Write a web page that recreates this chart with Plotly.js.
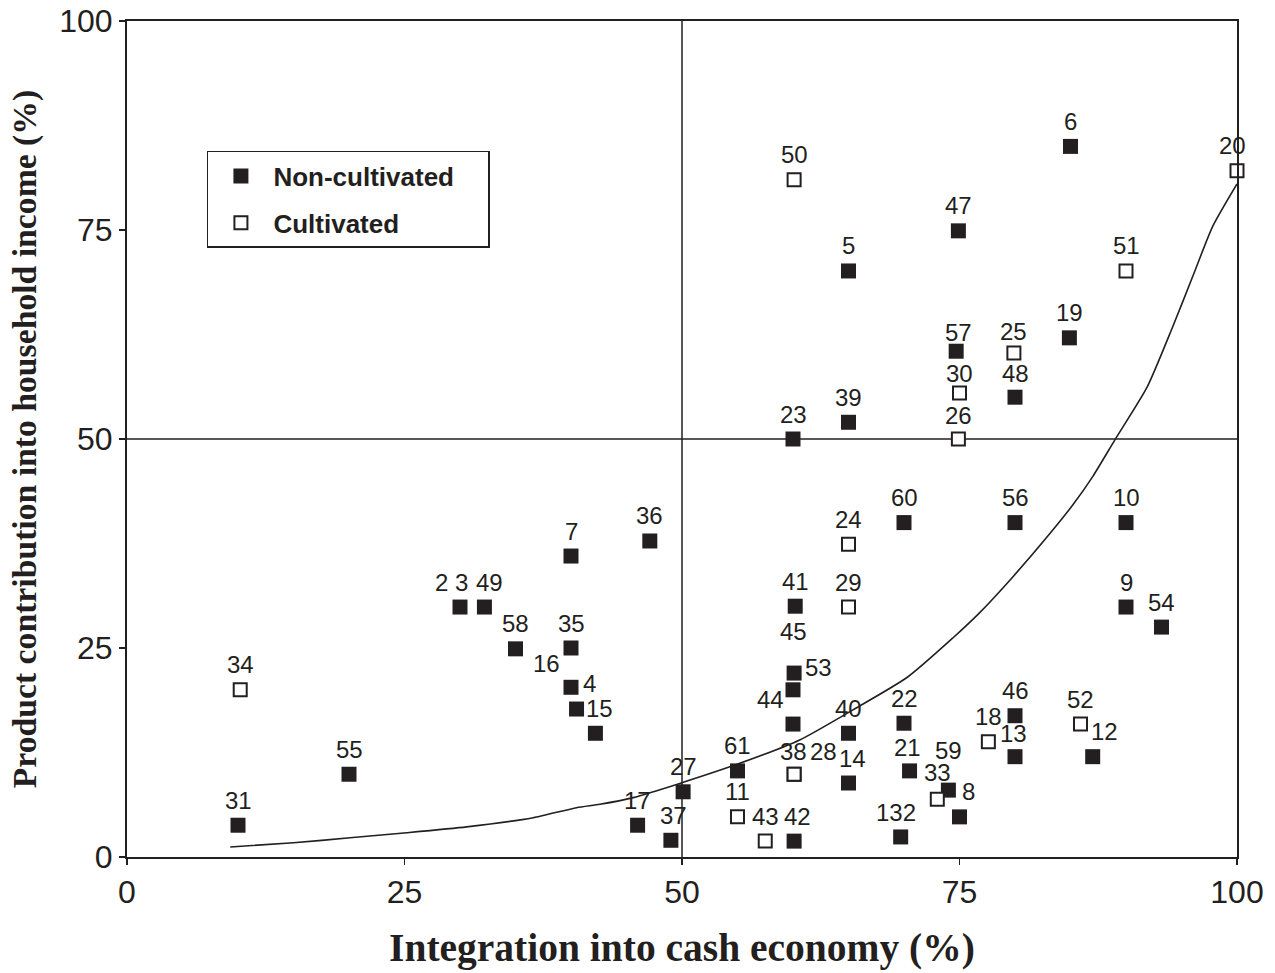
<!DOCTYPE html>
<html>
<head>
<meta charset="utf-8">
<script src="https://cdn.plot.ly/plotly-3.0.1.min.js"></script>
<style>html,body{margin:0;padding:0;background:#fff;}#chart{width:1275px;height:973px;}</style>
</head>
<body>
<div id="chart"></div>
<script>
// ---- Data ----
const ncIds = ['31','55','2 3','49','58','7','35','16','4','15','36','17','37','27','61','42','44','53','45','41','40','14','22','21','132','59','8','46','13','12','54','9','10','56','60','23','39','57','48','19','5','47','6'];
const ncX = [10, 20, 30, 32.2, 35, 40, 40, 40, 40.5, 42.2, 47.1, 46, 49, 50.1, 55, 60.1, 60, 60.1, 60, 60.2, 65, 65, 70, 70.5, 69.7, 74, 75, 80, 80, 87, 93.2, 90, 90, 80, 70, 60, 65, 74.7, 80, 84.9, 65, 74.9, 85];
const ncY = [3.8, 9.9, 29.9, 29.9, 24.9, 36, 25, 20.3, 17.7, 14.8, 37.8, 3.8, 2, 7.8, 10.3, 1.9, 15.9, 22, 20, 30, 14.8, 8.85, 16, 10.3, 2.4, 8, 4.8, 16.9, 12, 12, 27.5, 29.9, 40, 40, 40, 50, 52, 60.5, 55, 62.1, 70.1, 74.9, 85];

const cIds = ['34','11','43','38','28','33','18','52','24','29','26','30','25','50','51','20'];
const cX = [10.2, 55, 57.5, 60.1, 60.1, 73, 77.6, 85.9, 65, 65, 74.9, 75, 79.9, 60.1, 90, 100];
const cY = [20, 4.8, 1.9, 9.9, 9.9, 6.9, 13.8, 15.9, 37.4, 29.9, 50, 55.5, 60.3, 81, 70.1, 82.1];

const curveX = [9.3, 15, 20.1, 25.2, 30.6, 36.6, 40.5, 42.6, 45.6, 49.8, 55.2, 60.6, 65.4, 70.3, 74.4, 76.8, 79.8, 82.9, 85.2, 87.0, 89.0, 91.9, 94.2, 96.0, 97.8, 100];
const curveY = [1.2, 1.7, 2.3, 2.9, 3.6, 4.7, 5.9, 6.3, 7.1, 8.8, 11.2, 14.0, 17.6, 21.5, 26.2, 29.2, 33.5, 38.3, 42.1, 45.5, 49.9, 56.2, 63.4, 69.4, 75.4, 80.5];

const tickVals = [0, 25, 50, 75, 100];
const tickText = ['0', '25', '50', '75', '100'];
const refX = 50, refY = 50;

// ---- Label placement (style, px offsets: dx right, dy down) ----
const labelOffset = {
  '2 3':[-9,-25], '49':[5,-25], '16':[-25,-24], '4':[13,-26], '15':[4,-25], '37':[3,-25],
  '42':[3,-25], '38':[-1,-23], '28':[29,-23], '44':[-23,-25], '53':[24,-6], '45':[0,-58],
  '14':[4,-25], '21':[-2,-23], '132':[-5,-24], '8':[9,-25], '12':[12,-25], '20':[-5,-25],
  '13':[-2,-23], '57':[2,-19], '25':[0,-21], '30':[0,-20], '48':[0,-24], '59':[0,-40],
  '33':[0,-27], '26':[0,-24]
};

const INK = '#231f20';
const SANS = 'Liberation Sans, Arial, sans-serif';
const SERIF = 'Liberation Serif, Times New Roman, serif';
const PAD = '\u00a0\u00a0\u00a0\u00a0';

const annotations = [];
function addLabels(ids, xs, ys) {
  ids.forEach((id, i) => {
    const off = labelOffset[id] || [0, -25];
    annotations.push({
      x: xs[i], y: ys[i], xref: 'x', yref: 'y', text: id, showarrow: false,
      xanchor: 'center', yanchor: 'middle', xshift: off[0], yshift: -off[1],
      font: {family: SANS, size: 24, color: INK}
    });
  });
}
addLabels(ncIds, ncX, ncY);
addLabels(cIds, cX, cY);

const traces = [
  {x: curveX, y: curveY, mode: 'lines', line: {color: INK, width: 1.6, shape: 'spline', smoothing: 0.6},
   showlegend: false, hoverinfo: 'skip'},
  {x: ncX, y: ncY, mode: 'markers', name: 'Non-cultivated' + PAD, legendgroup: 'a', cliponaxis: false,
   marker: {symbol: 'square', size: 15, color: INK, line: {width: 0}}},
  {x: cX, y: cY, mode: 'markers', name: 'Cultivated', legendgroup: 'b', cliponaxis: false,
   marker: {symbol: 'square', size: 13, color: '#ffffff', line: {width: 2, color: INK}}}
];

const axisCommon = {
  range: [0, 100], tickvals: tickVals, ticktext: tickText, ticks: 'outside', ticklen: 6,
  tickwidth: 1.5, tickcolor: INK, showline: true, linewidth: 2, linecolor: INK, mirror: true,
  showgrid: false, zeroline: false, tickfont: {family: SANS, size: 32, color: INK}, fixedrange: true
};

const layout = {
  width: 1275, height: 973,
  margin: {l: 127, r: 38, t: 21, b: 116},
  paper_bgcolor: '#ffffff', plot_bgcolor: '#ffffff',
  xaxis: Object.assign({}, axisCommon, {
    title: {text: '<b>Integration into cash economy (%)</b>', font: {family: SERIF, size: 39.5, color: INK}, standoff: 24}
  }),
  yaxis: Object.assign({}, axisCommon, {
    title: {text: '<b>Product contribution into household income (%)</b>', font: {family: SERIF, size: 33.7, color: INK}, standoff: 12}
  }),
  shapes: [
    {type: 'line', xref: 'x', yref: 'y', x0: refX, x1: refX, y0: 0, y1: 100, line: {color: INK, width: 1.5}, layer: 'below'},
    {type: 'line', xref: 'x', yref: 'y', x0: 0, x1: 100, y0: refY, y1: refY, line: {color: INK, width: 1.5}, layer: 'below'}
  ],
  legend: {
    x: 0.072, y: 0.8445, xanchor: 'left', yanchor: 'top',
    bordercolor: INK, borderwidth: 1.5, bgcolor: '#ffffff',
    font: {family: SANS, size: 26, color: INK, weight: 'bold'},
    traceorder: 'grouped', tracegroupgap: 10, itemwidth: 55
  },
  annotations: annotations,
  showlegend: true
};

Plotly.newPlot('chart', traces, layout, {staticPlot: true, displayModeBar: false});
</script>
</body>
</html>
